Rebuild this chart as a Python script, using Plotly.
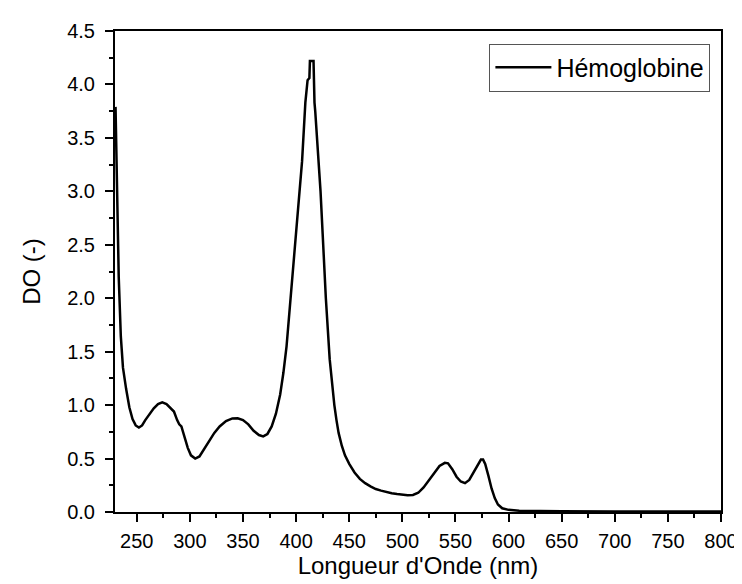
import plotly.graph_objects as go

# absorbance spectrum
wavelength = [230, 231, 232, 233, 235, 237, 240, 243, 246, 249, 252, 255, 258, 262,
              266, 270, 274, 278, 282, 285, 288, 290, 292, 295, 298, 301, 305, 309,
              313, 318, 323, 328, 334, 340, 345, 350, 355, 360, 365, 369, 373, 377,
              381, 385, 388, 391, 394, 397, 400, 403, 405.6, 408.7, 410.8, 412.5, 413,
              416.4, 416.8, 417.3, 418, 419, 421.4, 423, 425, 428, 431.6, 434, 436,
              438, 440, 443, 446, 450, 455, 460, 465, 470, 475, 480, 485, 490, 495,
              500, 505, 510, 515, 520, 525, 530, 535, 540, 543, 547, 551, 555, 559,
              563, 567, 571, 574, 576, 578, 581, 584, 587, 590, 594, 600, 610, 630,
              650, 700, 750, 800]
absorbance = [3.79, 3.3, 2.7, 2.2, 1.64, 1.35, 1.15, 0.98, 0.87, 0.81, 0.79, 0.81,
              0.86, 0.92, 0.97, 1.01, 1.025, 1.01, 0.97, 0.94, 0.86, 0.82, 0.80, 0.70,
              0.60, 0.53, 0.50, 0.52, 0.58, 0.66, 0.74, 0.80, 0.85, 0.875, 0.877, 0.86,
              0.82, 0.76, 0.72, 0.707, 0.73, 0.80, 0.92, 1.10, 1.30, 1.55, 1.90, 2.25,
              2.62, 3.0, 3.28, 3.83, 4.04, 4.06, 4.22, 4.22, 4.0, 3.83, 3.75, 3.6,
              3.28, 3.0, 2.6, 2.0, 1.43, 1.18, 1.0, 0.86, 0.74, 0.62, 0.53, 0.45, 0.37,
              0.31, 0.27, 0.24, 0.215, 0.2, 0.185, 0.175, 0.168, 0.162, 0.157, 0.16,
              0.18, 0.23, 0.30, 0.37, 0.43, 0.46, 0.455, 0.40, 0.33, 0.285, 0.27, 0.30,
              0.37, 0.45, 0.49, 0.49, 0.45, 0.34, 0.22, 0.13, 0.07, 0.035, 0.02, 0.012,
              0.008, 0.006, 0.004, 0.004, 0.005]

FONT = "Liberation Sans, Arial"

fig = go.Figure()
fig.add_trace(go.Scatter(
    x=wavelength,
    y=absorbance,
    mode="lines",
    name="Hémoglobine",
    line=dict(color="black", width=2.5),
))

axis_common = dict(
    showline=True,
    linecolor="black",
    linewidth=2,
    mirror=True,
    ticks="outside",
    ticklen=8,
    tickwidth=1.5,
    tickcolor="black",
    showgrid=False,
    zeroline=False,
    tickfont=dict(family=FONT, size=20, color="black"),
)

fig.update_xaxes(
    **axis_common,
    range=[229.5, 800],
    tick0=250,
    dtick=50,
    ticklabelstandoff=2,
    minor=dict(ticks="outside", ticklen=4, tickwidth=1.5, tickcolor="black", dtick=25, tick0=250),
    title=dict(text="Longueur d'Onde (nm)", font=dict(family=FONT, size=24, color="black"), standoff=6),
)
fig.update_yaxes(
    **axis_common,
    range=[0, 4.5],
    dtick=0.5,
    tickformat=".1f",
    ticklabelstandoff=6,
    minor=dict(ticks="outside", ticklen=4, tickwidth=1.5, tickcolor="black", dtick=0.25),
    title=dict(text="DO (-)", font=dict(family=FONT, size=24, color="black"), standoff=20),
)

fig.update_layout(
    width=742,
    height=584,
    plot_bgcolor="white",
    paper_bgcolor="white",
    margin=dict(l=107, r=22, t=18, b=80),
    showlegend=True,
    legend=dict(
        x=0.9825, y=0.974,
        xanchor="right", yanchor="top",
        bgcolor="white",
        bordercolor="#555555",
        borderwidth=1,
        font=dict(family=FONT, size=25, color="black"),
        itemwidth=56,
        tracegroupgap=0,
    ),
)

fig.write_html("out.html")
